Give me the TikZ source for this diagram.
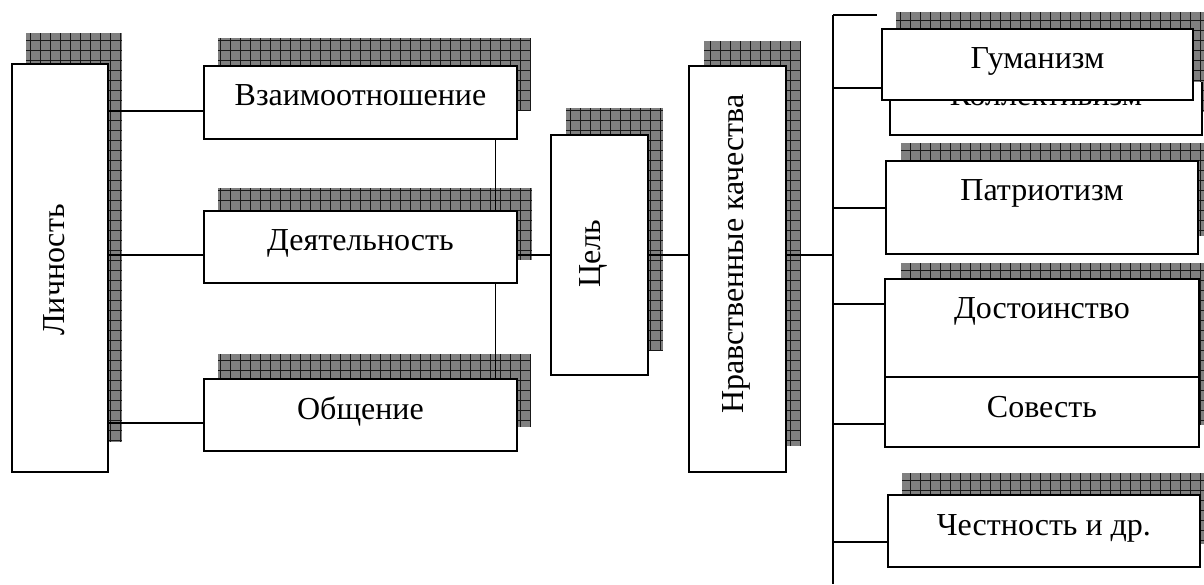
\documentclass[tikz,border=0pt]{standalone}
\usepackage{fontspec}
\setmainfont{Liberation Serif}
\begin{document}
\begin{tikzpicture}[x=1pt,y=-1pt,
  box/.style={draw, line width=1.9pt, fill=white, inner sep=0pt, anchor=north west},
  txt/.style={font=\fontsize{32}{38}\selectfont, inner sep=0pt, anchor=base},
  shade/.style={fill=black!50, path picture={\draw[black!90,line width=0.8pt] (path picture bounding box.south west) grid[step=10pt] (path picture bounding box.north east);}},
  conn/.style={line width=1.5pt},
  thinconn/.style={line width=1pt},
]
\clip (0,0) rectangle (1204,585);
\fill[white] (0,0) rectangle (1204,585);
% shadows
\path[shade] (26,33) rectangle (122,442);
\path[shade] (218,38) rectangle (531,111);
\path[shade] (218,188) rectangle (532,260);
\path[shade] (218,354) rectangle (531,427);
\path[shade] (566,108) rectangle (663,350);
\path[shade] (704,41) rectangle (801,446);
\path[shade] (901,143) rectangle (1214,236);
\path[shade] (901,263) rectangle (1214,425);
\path[shade] (902,473) rectangle (1214,544);
% boxes
\node[box, minimum width=96, minimum height=408] (L) at (11,63) {};
\node[box, minimum width=313, minimum height=73] (B1) at (203,65) {};
\node[box, minimum width=313, minimum height=72] (B2) at (203,210) {};
\node[box, minimum width=313, minimum height=72] (B3) at (203,378) {};
\node[box, minimum width=97, minimum height=240] (C) at (550,134) {};
\node[box, minimum width=97, minimum height=406] (N) at (688,65) {};
\path[shade] (904,43) rectangle (1216,112);
\node[box, minimum width=312, minimum height=69] (K) at (889,65) {};
\node[txt] (tK) at ([yshift=-41pt]K.north) {Коллективизм};
\path[shade] (896,12) rectangle (1207,82);
\node[box, minimum width=311, minimum height=71] (G) at (881,28) {};
\node[box, minimum width=312, minimum height=93] (P) at (885,160) {};
\node[box, minimum width=314, minimum height=98] (D) at (884,278) {};
\node[box, minimum width=314, minimum height=70] (S) at (884,376) {};
\node[box, minimum width=312, minimum height=72] (H) at (887,494) {};
% texts
\node[txt, rotate=90] (tL) at (64,270) {Личность};
\node[txt] (tB1) at ([yshift=-41pt]B1.north) {Взаимоотношение};
\node[txt] (tB2) at ([yshift=-41pt]B2.north) {Деятельность};
\node[txt] (tB3) at ([yshift=-41pt]B3.north) {Общение};
\node[txt, rotate=90] (tC) at (600,254) {Цель};
\node[txt, rotate=90] (tN) at (743,254) {Нравственные качества};
\node[txt] (tG) at ([yshift=-41pt]G.north) {Гуманизм};
\node[txt] (tP) at ([yshift=-41pt]P.north) {Патриотизм};
\node[txt] (tD) at ([yshift=-40pt]D.north) {Достоинство};
\node[txt] (tS) at ([yshift=-41pt]S.north) {Совесть};
\node[txt] (tH) at ([yshift=-41pt]H.north) {Честность и др.};
% connectors left
\coordinate (l1) at ([yshift=-8.5pt]B1.west);
\coordinate (l2) at ([yshift=-8pt]B2.west);
\coordinate (l3) at ([yshift=-8pt]B3.west);
\draw[conn] (L.east |- l1) -- (l1);
\draw[conn] (L.east |- l2) -- (l2);
\draw[conn] (L.east |- l3) -- (l3);
\coordinate (v1) at (495,0);
\draw[thinconn] (B1.south -| v1) -- (B2.north -| v1);
\draw[thinconn] (B2.south -| v1) -- (B3.north -| v1);
\draw[conn] (B2.east |- C.west) -- (C.west);
\draw[conn] (C.east) -- (N.west |- C.east);
% bus
\coordinate (bt) at (833,15);
\coordinate (bb) at (833,584);
\coordinate (stub) at (877,15);
\draw[line width=1.9pt] (bt) -- (bb);
\draw[conn] (bt) -- (stub);
\draw[conn] (N.east |- C.east) -- (bt |- C.east);
\coordinate (g1) at ([yshift=-23.5pt]G.west);
\coordinate (p1) at ([yshift=-0.5pt]P.west);
\coordinate (d1) at ([yshift=24pt]D.west);
\coordinate (s1) at ([yshift=-12pt]S.west);
\coordinate (h1) at ([yshift=-11pt]H.west);
\draw[conn] (bt |- g1) -- (g1);
\draw[conn] (bt |- p1) -- (p1);
\draw[conn] (bt |- d1) -- (d1);
\draw[conn] (bt |- s1) -- (s1);
\draw[conn] (bt |- h1) -- (h1);
\end{tikzpicture}
\end{document}
